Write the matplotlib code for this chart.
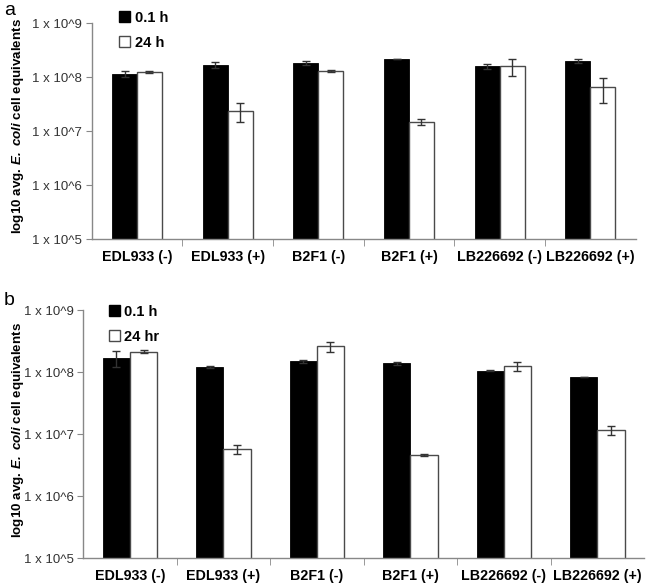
import matplotlib
matplotlib.use("Agg")
import matplotlib.pyplot as plt
import numpy as np
from matplotlib.patches import Patch

plt.rcParams['font.family'] = ['Liberation Sans', 'DejaVu Sans']
plt.rcParams['mathtext.fontset'] = 'custom'
plt.rcParams['mathtext.rm'] = 'Liberation Sans:bold'
plt.rcParams['mathtext.bf'] = 'Liberation Sans:bold'
plt.rcParams['mathtext.it'] = 'Liberation Sans:italic:bold'
plt.rcParams['mathtext.bfit'] = 'Liberation Sans:italic:bold'

categories = ["EDL933 (-)", "EDL933 (+)", "B2F1 (-)", "B2F1 (+)", "LB226692 (-)", "LB226692 (+)"]

# Panel a
a_early = [1.17e8, 1.72e8, 1.84e8, 2.15e8, 1.60e8, 2.00e8]
a_early_err = [0.14e8, 0.23e8, 0.16e8, 0.0, 0.15e8, 0.15e8]
a_late = [1.25e8, 2.42e7, 1.31e8, 1.49e7, 1.60e8, 6.5e7]
a_late_err = [0.05e8, 0.95e7, 0.03e8, 0.17e7, 0.56e8, 3.2e7]

# Panel b
b_early = [1.69e8, 1.22e8, 1.49e8, 1.38e8, 1.06e8, 8.3e7]
b_early_err = [0.5e8, 0.05e8, 0.09e8, 0.06e8, 0.02e8, 0.0]
b_late = [2.14e8, 5.71e6, 2.60e8, 4.68e6, 1.25e8, 1.16e7]
b_late_err = [0.1e8, 1.0e6, 0.47e8, 0.15e6, 0.2e8, 0.18e7]

yticks = [1e5, 1e6, 1e7, 1e8, 1e9]
ytick_labels = ["1 x 10^5", "1 x 10^6", "1 x 10^7", "1 x 10^8", "1 x 10^9"]

W, H = 650, 583
panels = [
    dict(label="a", early=a_early, eerr=a_early_err, late=a_late, lerr=a_late_err,
         leg=["0.1 h", "24 h"], rect=[0.141, 0.5895, 0.837, 0.3705], width=0.275,
         legpos=(0.04, 1.085), lab_px=(4, 2), ylab_px=(18, 126)),
    dict(label="b", early=b_early, eerr=b_early_err, late=b_late, lerr=b_late_err,
         leg=["0.1 h", "24 hr"], rect=[0.128, 0.0425, 0.863, 0.4255], width=0.29,
         legpos=(0.035, 1.045), lab_px=(4, 292), ylab_px=(18, 430)),
]

fig = plt.figure(figsize=(6.5, 5.83), dpi=100)
ylabel = r"log10 avg. $\mathbfit{E.\ coli}$ cell equivalents"
for p in panels:
    ax = fig.add_axes(p["rect"])
    x = np.arange(len(categories))
    w = p["width"]
    ax.bar(x - w/2, p["early"], width=w, color="black", edgecolor="black", linewidth=0.6, zorder=2)
    ax.bar(x + w/2, p["late"], width=w, color="white", edgecolor="#4a4a4a", linewidth=1.0, zorder=2)
    ax.errorbar(x - w/2, p["early"], yerr=p["eerr"], fmt="none", ecolor="#333333",
                elinewidth=1.0, capsize=3, capthick=1.0, zorder=3)
    ax.errorbar(x + w/2, p["late"], yerr=p["lerr"], fmt="none", ecolor="#333333",
                elinewidth=1.0, capsize=3, capthick=1.0, zorder=3)
    ax.set_yscale("log")
    ax.set_ylim(1e5, 1e9)
    ax.set_xlim(-0.5, len(categories) - 0.5)
    ax.set_yticks(yticks)
    ax.set_yticklabels(ytick_labels)
    ax.yaxis.set_minor_locator(matplotlib.ticker.NullLocator())
    ax.set_xticks(x)
    ax.set_xticklabels(categories, fontweight="bold", fontsize=10.3)
    ax.set_xticks(np.arange(0.5, len(categories) - 0.5, 1), minor=True)
    ax.tick_params(axis="x", which="major", length=0, pad=8)
    ax.tick_params(axis="x", which="minor", length=5, color="#888888", direction="out")
    ax.tick_params(axis="y", which="major", length=4, color="#888888", labelsize=9.5,
                   labelcolor="#333333", pad=3)
    for s in ["top", "right"]:
        ax.spines[s].set_visible(False)
    for s in ["left", "bottom"]:
        ax.spines[s].set_color("#888888")
        ax.spines[s].set_linewidth(1.0)
    fig.text(p["ylab_px"][0] / W, 1 - p["ylab_px"][1] / H, ylabel, rotation=90,
             ha="center", va="center", fontsize=9.6, fontweight="bold")
    handles = [Patch(facecolor="black", edgecolor="black"),
               Patch(facecolor="white", edgecolor="#4a4a4a")]
    ax.legend(handles, p["leg"], loc="upper left", bbox_to_anchor=p["legpos"],
              frameon=False, handlelength=0.75, handleheight=0.75, handletextpad=0.3,
              labelspacing=0.75, prop=dict(weight="bold", size=10.5), borderaxespad=0)
    fig.text(p["lab_px"][0] / W, 1 - p["lab_px"][1] / H, p["label"], fontsize=14,
             ha="left", va="top")

fig.savefig("out.png", dpi=100)
